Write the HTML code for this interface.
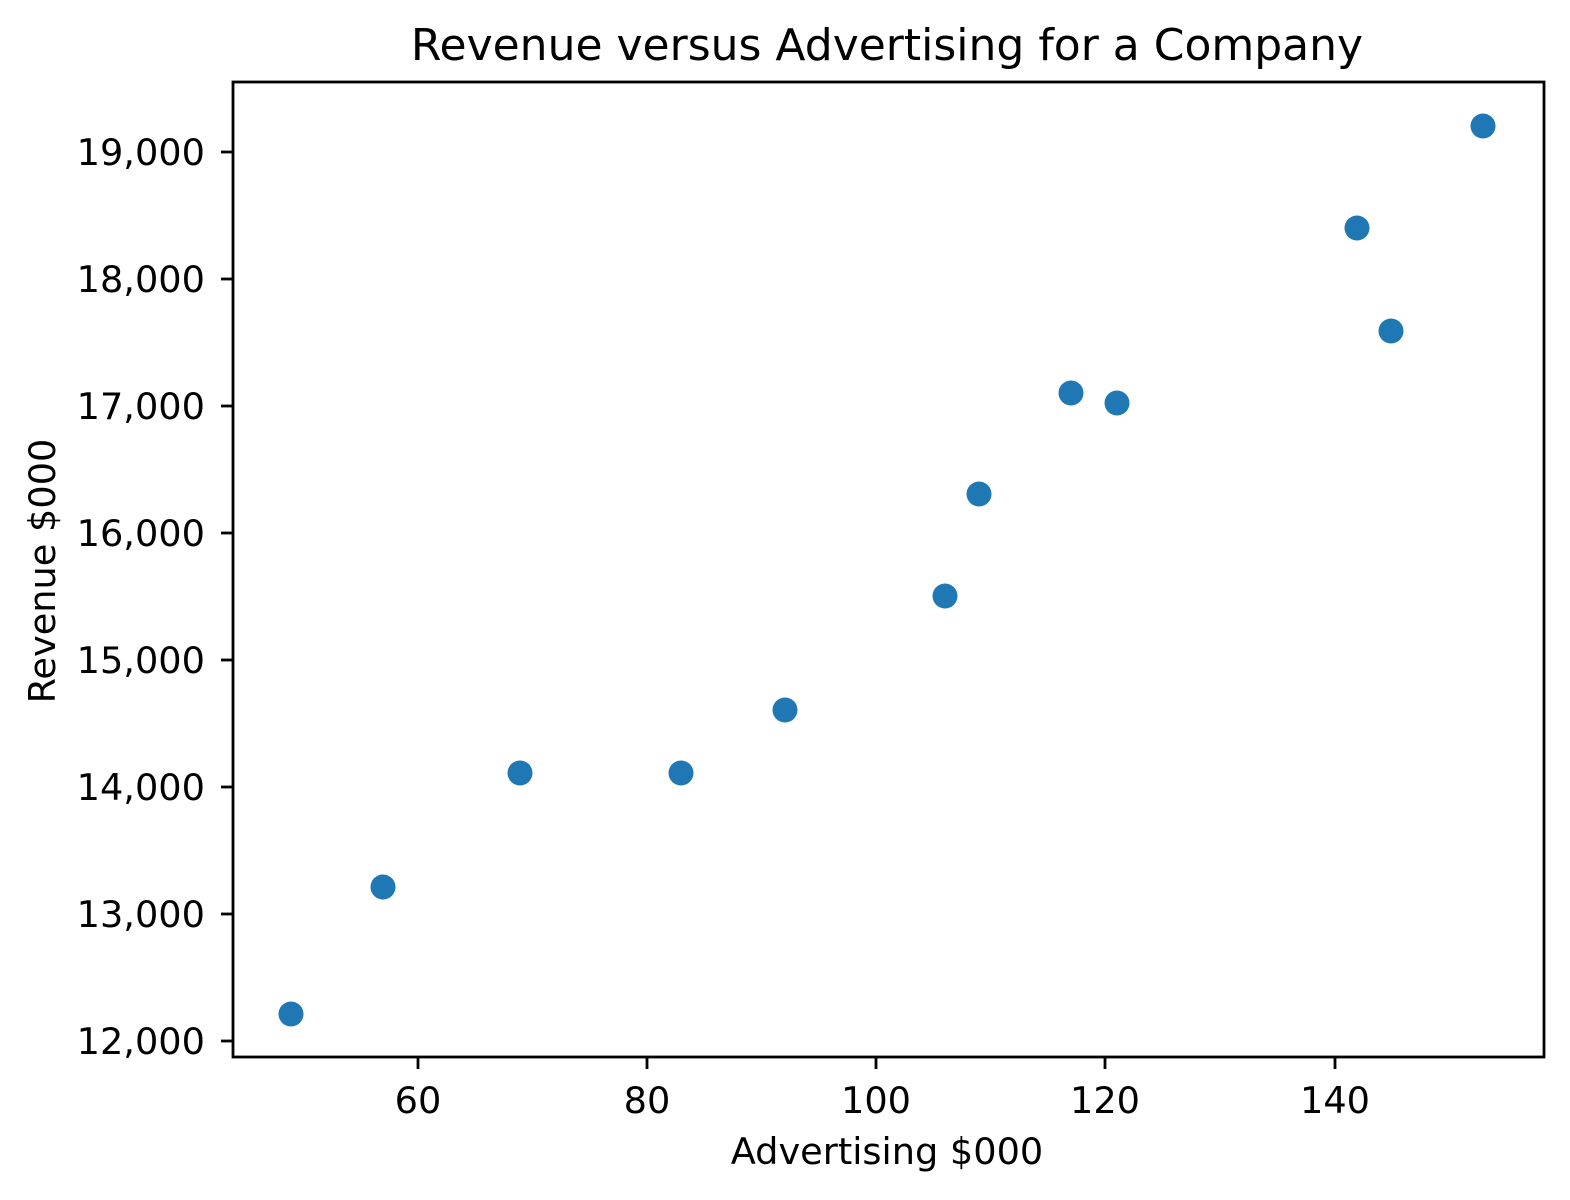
<!DOCTYPE html>
<html><head><meta charset="utf-8"><style>html,body{margin:0;padding:0;background:#fff}svg{display:block}text{font-family:"DejaVu Sans","Liberation Sans",sans-serif;fill:#000}</style></head>
<body>
<svg width="1570" height="1200" viewBox="0 0 1570 1200" xmlns="http://www.w3.org/2000/svg">
<rect width="1570" height="1200" fill="#fff"/>
<text x="887" y="60" font-size="44" text-anchor="middle">Revenue versus Advertising for a Company</text>
<g fill="#1f77b4">
<circle cx="291" cy="1014" r="12.5"/>
<circle cx="383" cy="887" r="12.5"/>
<circle cx="520" cy="773" r="12.5"/>
<circle cx="681" cy="773" r="12.5"/>
<circle cx="785" cy="710" r="12.5"/>
<circle cx="945" cy="596" r="12.5"/>
<circle cx="979" cy="494" r="12.5"/>
<circle cx="1071" cy="393" r="12.5"/>
<circle cx="1117" cy="403" r="12.5"/>
<circle cx="1357" cy="228" r="12.5"/>
<circle cx="1391" cy="331" r="12.5"/>
<circle cx="1483" cy="126" r="12.5"/>
</g>
<rect x="233" y="82" width="1311" height="975" fill="none" stroke="#000" stroke-width="2.8"/>
<g stroke="#000" stroke-width="2.8">
<line x1="418" y1="1057" x2="418" y2="1069"/>
<line x1="647" y1="1057" x2="647" y2="1069"/>
<line x1="876" y1="1057" x2="876" y2="1069"/>
<line x1="1105" y1="1057" x2="1105" y2="1069"/>
<line x1="1335" y1="1057" x2="1335" y2="1069"/>
<line x1="221" y1="1041" x2="233" y2="1041"/>
<line x1="221" y1="914" x2="233" y2="914"/>
<line x1="221" y1="787" x2="233" y2="787"/>
<line x1="221" y1="660" x2="233" y2="660"/>
<line x1="221" y1="533" x2="233" y2="533"/>
<line x1="221" y1="406" x2="233" y2="406"/>
<line x1="221" y1="279" x2="233" y2="279"/>
<line x1="221" y1="152" x2="233" y2="152"/>
</g>
<g font-size="36.7" text-anchor="middle">
<text x="418" y="1113">60</text>
<text x="647" y="1113">80</text>
<text x="876" y="1113">100</text>
<text x="1105" y="1113">120</text>
<text x="1335" y="1113">140</text>
</g>
<g font-size="36.7" text-anchor="end">
<text x="205" y="1054">12,000</text>
<text x="205" y="927">13,000</text>
<text x="205" y="800">14,000</text>
<text x="205" y="673">15,000</text>
<text x="205" y="546">16,000</text>
<text x="205" y="419">17,000</text>
<text x="205" y="292">18,000</text>
<text x="205" y="165">19,000</text>
</g>
<text x="887" y="1164" font-size="36.7" text-anchor="middle">Advertising $000</text>
<text transform="translate(55,571) rotate(-90)" font-size="36.7" text-anchor="middle">Revenue $000</text>
</svg>
</body></html>
